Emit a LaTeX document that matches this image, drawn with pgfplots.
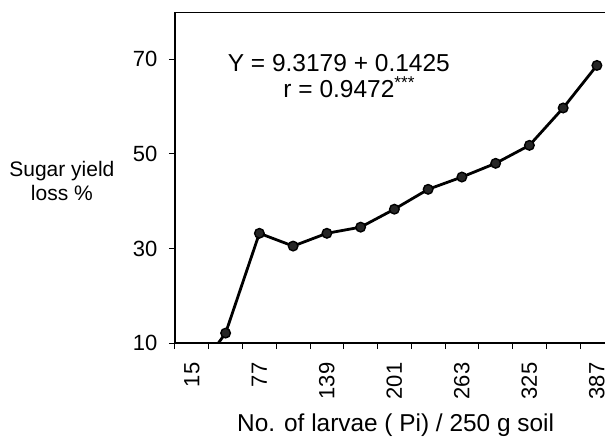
\documentclass[border=0pt]{standalone}
\usepackage{fontspec}
\setmainfont{Liberation Sans}
\usepackage{pgfplots}
\pgfplotsset{compat=1.18}
\begin{document}
\begin{tikzpicture}
\useasboundingbox (-175pt,-97pt) rectangle (430pt,343pt);
\begin{axis}[
  at={(0pt,0pt)}, anchor=south west,
  scale only axis, width=430pt, height=331pt,
  xmin=-0.5, xmax=12.24, ymin=10, ymax=80,
  axis lines=left, axis line style={-, line width=1.3pt},
  tick align=outside, major tick length=6pt,
  every tick/.style={black, line width=1pt},
  xtick={-0.5,0.5,...,11.5}, xticklabels={},
  extra x ticks={0,2,4,6,8,10,12},
  extra x tick labels={15,77,139,201,263,325,387},
  extra x tick style={major tick length=0pt,
    tick label style={rotate=90, anchor=east, yshift=-0pt, xshift=-16pt}},
  ytick={10,30,50,70},
  /pgf/number format/assume math mode=true,
  tick label style={font=\fontsize{22}{26}\selectfont},
  yticklabel style={xshift=-8pt},
  xlabel={No. of larvae ( Pi) / 250 g soil},
  xlabel style={font=\fontsize{24.4}{28}\selectfont, at={(axis description cs:0.513,0)}, anchor=base, yshift=-88pt},
  ylabel={Sugar yield\\loss \%},
  ylabel style={rotate=-90, align=center, font=\fontsize{21}{24}\selectfont, at={(axis description cs:-0.263,0.49)}, anchor=center},
  clip=true,
]
\addplot[black, line width=2.8pt, mark=*, mark size=4.8pt, mark options={fill=black!85, draw=black, line width=1.4pt}]
  coordinates {(0,2.3) (1,12.1) (2,33.2) (3,30.5) (4,33.2) (5,34.5) (6,38.3) (7,42.5) (8,45.1) (9,48.0) (10,51.8) (11,59.7) (12,68.7)};
\draw[line width=1.3pt] (rel axis cs:0,1) -- (rel axis cs:1,1);
\node[font=\fontsize{24.5}{28}\selectfont] at (axis description cs:0.381,0.846) {Y = 9.3179 + 0.1425};
\node[font=\fontsize{24.5}{28}\selectfont, anchor=west] at (axis description cs:0.244,0.774) {r = 0.9472\textsuperscript{***}};
\end{axis}
\end{tikzpicture}
\end{document}
